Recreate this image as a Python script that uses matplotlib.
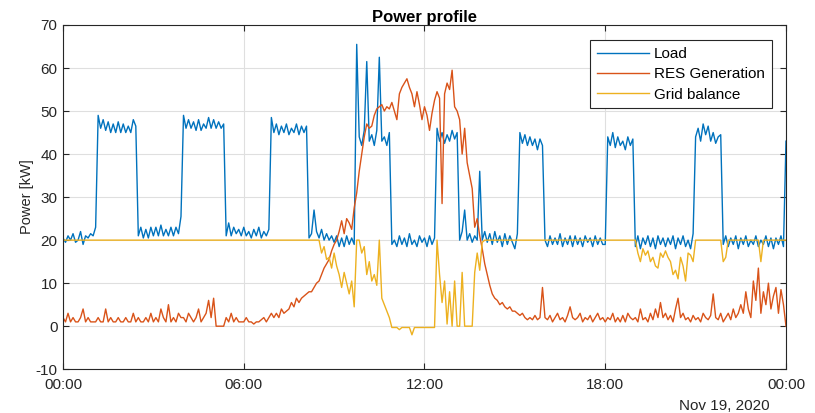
import numpy as np
import pandas as pd
import matplotlib
matplotlib.use("Agg")
import matplotlib.pyplot as plt
import matplotlib.dates as mdates

plt.rcParams["font.family"] = ["Liberation Sans", "DejaVu Sans"]
plt.rcParams["axes.unicode_minus"] = False

# 5-minute samples, one row per hour (12 values), plus final 24:00 value
load_kw = [
    20.5, 19.5, 21, 20, 21.5, 19.5, 20, 22, 19, 21, 20.5, 21.5,          # 00
    21, 23, 49, 46, 48, 45.5, 47.5, 45, 47, 45, 47.5, 45,                # 01
    47, 45, 46.5, 45, 48, 46.5, 21, 23, 20.5, 22.5, 20.5, 23,            # 02
    21, 23, 21, 23.5, 21, 22.5, 21, 23, 21, 23, 21.5, 25.5,              # 03
    49, 46, 48, 46, 47.5, 45.5, 48, 45.5, 47, 46, 48.5, 46,              # 04
    48, 46, 47.5, 46, 47, 21, 24, 21, 23, 21.5, 22.5, 21,                # 05
    23, 21, 22, 20.5, 22.5, 21, 23, 20.5, 22, 21, 22.5, 48.5,            # 06
    45, 47, 44.5, 46.5, 45, 47, 44.5, 46, 45, 47, 44.5, 46.5,            # 07
    45, 46.5, 20.5, 21.5, 27, 22, 20.5, 22.5, 20, 21.5, 20, 21,          # 08
    19.5, 21, 18.5, 20.5, 18.5, 21, 19, 20.5, 19, 65.5, 44, 42,          # 09
    45.5, 61.5, 43, 44.5, 42, 45.5, 62.5, 43, 44, 42, 45, 19,            # 10
    20, 18.5, 21, 19, 20.5, 18.5, 21.5, 19, 20, 18.5, 21, 19.5,          # 11
    20.5, 18.5, 21, 19, 20.5, 46, 43, 45, 42.5, 44.5, 43, 45.5,          # 12
    43.5, 45, 20, 22, 27, 20, 21.5, 19.5, 21, 20, 36, 20,                # 13
    22, 19.5, 21.5, 19, 22, 19.5, 21, 18.5, 21.5, 19, 21, 19.5,          # 14
    18, 21.5, 45, 42.5, 44.5, 42, 44, 42, 43.5, 41, 43.5, 42,            # 15
    20, 18.5, 21, 19, 20.5, 19, 21.5, 18.5, 20.5, 19, 21, 18.5,          # 16
    21, 19, 20.5, 18.5, 21, 19.5, 20.5, 18.5, 21, 19, 20.5, 19,          # 17
    19, 44, 42, 45, 41.5, 44, 42, 43, 41, 44, 42, 43.5,                  # 18
    18.5, 21, 18, 20.5, 19, 21, 18.5, 20.5, 18, 21, 19, 20.5,            # 19
    18.5, 20.5, 19, 21, 18, 20.5, 19, 21, 18.5, 20, 18, 21.5,            # 20
    44, 46, 43, 47, 44.5, 46.5, 43, 45, 42.5, 44, 44.5, 19,              # 21
    21, 18.5, 20.5, 19, 21, 18, 20.5, 19, 21, 18.5, 20, 19,              # 22
    21, 18.5, 20, 19, 21, 18.5, 20.5, 18, 20.5, 19, 21, 18.5,            # 23
    43,
]

res_kw = [
    2, 1, 3, 1, 2, 1, 1, 2, 4, 1, 2, 1,                                  # 00
    1, 1, 2, 1, 1, 4, 1, 2, 1, 1, 2, 1,                                  # 01
    1, 2, 1, 1, 3, 1, 2, 1, 1, 2, 1, 3,                                  # 02
    1, 2, 1, 4, 2, 1, 5, 1, 2, 1, 3, 2,                                  # 03
    2, 1, 3, 2, 1, 2, 4, 1, 2, 3, 6, 2,                                  # 04
    6.5, 0, 0, 0, 0, 2, 1, 3, 1, 2, 1, 1,                                # 05
    1, 2, 1, 1, 0.5, 1, 1, 1.5, 2, 1, 2, 3,                              # 06
    2, 3, 2, 4, 3, 3.5, 4, 5.5, 4.5, 6.5, 5.5, 6.5,                      # 07
    7, 7.5, 8, 8, 9, 10, 10.5, 12, 13.5, 14.5, 15.5, 17.5,               # 08
    19, 20, 22, 24.5, 21.5, 25, 24, 22.5, 27.5, 31, 36, 40,              # 09
    44, 47, 46, 46.5, 49, 50.5, 51, 51.5, 50, 51, 50.5, 52,              # 10
    50, 48, 54, 55.5, 56.5, 57.5, 55.5, 54, 51, 54.5, 51.5, 48,          # 11
    51, 49, 45.5, 49.5, 52.5, 54.5, 53, 28.5, 54, 56.5, 55, 59.5,        # 12
    51, 50, 48, 40, 46, 38, 35, 32, 23, 25, 21, 18,                      # 13
    14.5, 12, 9.5, 7.5, 6.5, 6, 5, 5.5, 4.5, 4, 4.5, 3.5,                # 14
    3.5, 3, 2.5, 3, 2, 1.5, 2, 1.5, 2.5, 1.5, 2, 9,                      # 15
    2, 1.5, 2.5, 1, 2, 3, 1.5, 2, 1, 2.5, 4.5, 2,                        # 16
    1.5, 2, 3, 1, 2, 1.5, 2.5, 1, 2, 3, 1.5, 2,                          # 17
    1, 2, 1.5, 3, 1, 2, 1, 2.5, 1, 3, 2, 1.5,                            # 18
    2, 1, 4, 1.5, 2, 1, 3, 1.5, 4, 2, 5.5, 2,                            # 19
    3, 1.5, 2.5, 1, 4, 6.5, 2, 3, 1.5, 2, 1, 2.5,                        # 20
    1.5, 2, 1, 3, 2, 1.5, 2.5, 7.5, 2, 1.5, 3, 1,                        # 21
    2, 3, 1.5, 4, 2, 3, 5, 3, 8, 4, 2, 10.5,                             # 22
    6, 13.5, 3, 8, 5, 10, 4, 7, 9, 3, 8.5, 5,                            # 23
    0,
]

grid_kw = (
    [20] * 96 +                                                          # 00-07
    [20, 20, 20, 20, 20, 20, 20, 17, 18.5, 15.5, 16, 13.5] +             # 08
    [17, 14, 12, 9, 12.5, 10, 7.5, 10.5, 4.5, 20, 20, 17] +              # 09
    [18.5, 12, 15, 10.5, 12, 9.5, 20, 6.5, 5, 3.5, 2, -0.3] +            # 10
    [-0.3, -0.3, -0.8, -0.3, -0.3, -0.3, -0.3, -2, -0.3, -0.3, -0.3, -0.3] +  # 11
    [-0.3, -0.3, -0.3, -0.3, -0.3, 20, 12, 5.5, 10.5, 0.5, 8, 0] +       # 12
    [10.5, 0, 0, 12.5, 0, 0, 0, 0, 12.5, 17, 13, 19.5] +                 # 13
    [20] * 60 +                                                          # 14-18
    [20, 17, 15, 18, 16.5, 17.5, 15, 16, 14, 13.5, 17, 16] +             # 19
    [17.5, 16, 15, 12, 13, 11, 16, 14, 10.5, 17, 16.5, 15] +             # 20
    [20] * 11 + [15] +                                                   # 21
    [16] + [20] * 11 +                                                   # 22
    [20, 20, 15] + [20] * 9 +                                            # 23
    [20]
)

t = pd.date_range("2020-11-19 00:00", "2020-11-20 00:00", freq="5min")

fig = plt.figure(figsize=(8.15, 4.13), dpi=100)
ax = fig.add_axes([0.0773, 0.106, 0.8871, 0.8335])
ax.plot(t, load_kw, color="#0072BD", lw=1.0, label="Load")
ax.plot(t, res_kw, color="#D95319", lw=1.0, label="RES Generation")
ax.plot(t, grid_kw, color="#EDB120", lw=1.0, label="Grid balance")

ax.set_xlim(t[0], t[-1])
ax.set_ylim(-10, 70)
ax.set_yticks(range(-10, 71, 10))
ax.xaxis.set_major_locator(mdates.HourLocator(byhour=[0, 6, 12, 18]))
ax.xaxis.set_major_formatter(mdates.DateFormatter("%H:%M"))
ax.grid(True, color="#dfdfdf", lw=0.8)
ax.set_axisbelow(True)
for s in ax.spines.values():
    s.set_color("#262626")
    s.set_linewidth(0.8)
ax.tick_params(direction="in", top=True, right=True, length=4, width=0.8,
               colors="#262626", labelsize=11)
ax.tick_params(axis="y", pad=4)
ax.tick_params(axis="x", pad=6)
ax.set_ylabel("Power [kW]", fontsize=10.5, color="#262626", labelpad=1)
ax.set_title("Power profile", fontsize=12, fontweight="bold", color="black", pad=2)
fig.text(0.9448, 0.0073, "Nov 19, 2020", ha="right", va="baseline", fontsize=11, color="#262626")

leg = ax.legend(loc="upper right", bbox_to_anchor=(0.9806, 0.955), fontsize=11,
                handlelength=3.4, fancybox=False, framealpha=1, edgecolor="#262626",
                borderpad=0.45, labelspacing=0.4, handletextpad=0.35, borderaxespad=0)
leg.get_frame().set_linewidth(0.8)

fig.savefig("out.png", dpi=100)
